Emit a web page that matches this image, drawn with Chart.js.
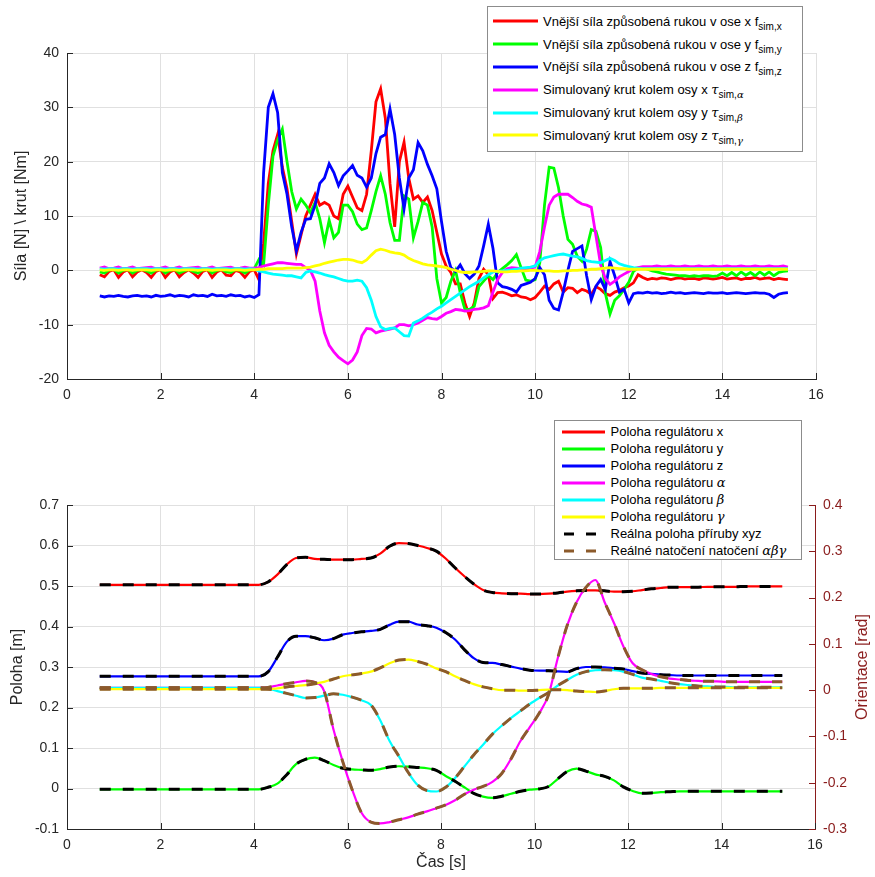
<!DOCTYPE html>
<html lang="cs">
<head>
<meta charset="utf-8">
<title>Síla a poloha regulátoru</title>
<script src="https://cdn.jsdelivr.net/npm/chart.js@4.4.1/dist/chart.umd.min.js"></script>
<style>
  html, body { margin: 0; padding: 0; background: #fff; }
  #wrap { position: relative; width: 875px; height: 877px; overflow: hidden; }
  #topBox { position: absolute; left: 0; top: 0; width: 875px; height: 430px; }
  #bottomBox { position: absolute; left: 0; top: 430px; width: 875px; height: 447px; }
  .legend { position: absolute; background: #fff; border: 1px solid #8c8c8c; box-sizing: border-box;
            font-family: "Liberation Sans", Arial, Helvetica, sans-serif; font-size: 13px; color: #000; z-index: 5; }
  .legend .row { display: flex; align-items: center; white-space: nowrap; }
  .legend svg { flex: none; display: block; }
  .legend sub { font-size: 10px; vertical-align: -4px; line-height: 0; }
  .legend .m { font-family: "DejaVu Serif", serif; font-style: italic; }
  #topLegend { left: 487px; top: 6px; width: 316px; height: 146px; padding-top: 3px; }
  #topLegend .row { height: 22.8px; }
  #topLegend svg { margin: 0 5px 0 5px; }
  #bottomLegend { left: 554px; top: 420px; width: 248px; height: 140px; padding-top: 2px; }
  #bottomLegend .row { height: 17px; }
  #bottomLegend svg { margin: 0 6px 0 6.5px; }
</style>
</head>
<body>
<div id="wrap">
  <div id="topBox"><canvas id="topChart" width="875" height="430"></canvas></div>
  <div id="bottomBox"><canvas id="bottomChart" width="875" height="447"></canvas></div>
  <div id="topLegend" class="legend"></div>
  <div id="bottomLegend" class="legend"></div>
</div>
<script>
// --- Data: top plot (sampled every 0.1 s from 0.7 s to 15.4 s) ---
const timeTop = Array.from({ length: 148 }, (_, i) => +(0.7 + i * 0.1).toFixed(1));

const forceX = [
  -0.8,-1.2,-0.2,0.1,-1.3,-0.3,0.1,-1.2,-0.3,0.1,
  -0.4,-1.3,-0.2,0.1,-1.3,-0.3,0.1,-1.2,-0.4,0.1,
  -0.5,-1.3,-0.2,0.1,-1.3,-0.3,0.1,-0.9,-1.0,0.0,
  -0.3,-1.3,-0.2,0.1,
  -1.7,5,16,22,25,19,15,9,3,6.5,
  10,12,14,12,12.5,12,10,9.5,14,15.5,
  13.5,11.5,11,14,22,31,33.4,28,16,8,
  20,23.6,17,13.1,13.7,12.5,13.5,11,7,3,
  0.8,-0.4,-2.5,-2.5,-6,-8.5,-6,-1.5,0.2,-0.8,
  -5.2,-4.1,-4,-4.3,-4.7,-4.5,-4.9,-5,-5.4,-5,
  -4,-2.9,-3.5,-2.5,-2,-4,-3.2,-3.3,-4.1,-3.5,
  -3.8,-4.4,-3,-3.5,-4.3,-4.6,-4,-3.7,-3.2,-2.9,
  -2.3,-0.8,-1.3,-1.7,-1.5,-1.6,-1.4,-1.5,-1.7,-1.5,
  -1.4,-1.6,-1.5,-1.5,-1.7,-1.4,-1.5,-1.6,-1.5,-1.3,
  -1.6,-1.5,-1.4,-1.7,-1.5,-1.5,-1.3,-1.6,-1.5,-1.4,
  -1.7,-1.5,-1.6,-1.7
];
const forceY = [
  -0.3,-0.5,0.1,0.2,-0.5,0.0,0.2,-0.5,0.0,0.2,
  -0.1,-0.5,0.1,0.2,-0.5,0.0,0.2,-0.5,-0.1,0.2,
  -0.2,-0.5,0.1,0.2,-0.5,0.0,0.2,-0.3,-0.4,0.2,
  0.0,-0.5,0.1,0.3,
  2,1,12,21,24,26,20,14.5,11.3,13.1,
  12,10.6,12.5,9.5,5.1,9.2,6,7,12,12,
  10.8,8.5,7.5,7.8,11,14.5,17.4,14,8.8,5.5,
  5.5,13.7,13.1,6,9,12.5,12,8,-1.5,-6,
  -5,-2,0,-4.1,-7.2,-7.2,-6.6,-3,-2,-1,
  -1.7,-0.4,0.3,1,1.8,2.9,0.5,-1.8,-2,-1.7,
  1.4,12,19,18.8,15.2,10,5.7,4.8,2.6,1.7,
  3.9,7.5,7.2,4.2,-4.2,-8,-5.5,-4.7,-3.5,-2.2,
  -0.2,0.4,0.5,0.2,-0.1,-0.3,-0.5,-0.7,-0.8,-0.9,
  -1.0,-1.0,-1.1,-1.0,-1.1,-1.0,-1.0,-1.1,-1.0,-0.5,
  -1.0,-0.4,-1.0,-0.3,-0.9,-0.4,-1.0,-0.3,-0.9,-0.3,
  -1.0,-0.4,-0.2,-0.1
];
const forceZ = [
  -4.7,-4.9,-4.7,-4.8,-4.6,-4.8,-4.9,-4.7,-4.6,-4.8,
  -4.7,-4.9,-4.6,-4.8,-4.7,-4.5,-4.8,-4.6,-4.7,-4.9,
  -4.5,-4.7,-4.6,-4.8,-4.4,-4.7,-4.6,-4.8,-4.5,-4.7,
  -4.6,-4.9,-4.7,-5.0,
  -4.5,18,30,32.5,29,18,14,8,3.6,7,
  9.4,9.5,12,16,17,19.6,18,15.6,17.4,18.3,
  19.3,17.5,17,15.3,17,21.5,24.5,25,29.7,25,
  17,11.3,17,18.5,23.5,22,19.5,17.4,15,9,
  3.5,0.5,-0.2,1,-0.6,-1.5,-0.7,0.8,4.5,8.5,
  4,-2.3,-3,-3.2,-3.5,-4,-2.8,-2.5,-2.2,-1.5,
  0.5,-0.8,-5.5,-7,-7.3,-4,0,3.5,4,4.5,
  -1,-5.4,-2.9,-1.7,-3.5,1.6,-1,-4,-3.5,-6,
  -4.3,-4.1,-4.2,-4.0,-4.2,-4.1,-4.3,-4.2,-4.0,-4.2,
  -4.1,-4.3,-4.2,-4.1,-4.2,-4.3,-4.1,-4.2,-4.2,-4.1,
  -4.3,-4.2,-4.1,-4.2,-4.3,-4.2,-4.1,-4.2,-4.2,-4.4,
  -5.0,-4.4,-4.2,-4.1
];
const torqueA = [
  0.4,0.6,0.3,0.4,0.6,0.3,0.4,0.6,0.3,0.4,
  0.5,0.6,0.3,0.4,0.6,0.3,0.4,0.6,0.3,0.4,
  0.5,0.6,0.3,0.4,0.6,0.3,0.4,0.5,0.6,0.3,
  0.4,0.6,0.4,0.4,
  0.5,0.8,1,1.2,1.4,1.4,1.3,1.2,1.1,1.1,
  0.5,0,-2,-7.5,-11.5,-13.8,-15,-16,-16.6,-17.2,
  -16.5,-15,-12,-10.7,-10.8,-11.5,-11.2,-11,-10.8,-10.6,
  -10,-10,-10.2,-10,-9.7,-9.2,-8.7,-8.9,-9,-8.5,
  -7.9,-7.6,-7.2,-7.3,-7.5,-7.4,-7.2,-7.1,-6.9,-6.5,
  -4,-1.7,-0.4,0.3,0.5,0.4,0.3,0.2,0.4,0.6,
  3.5,8,12,13.5,14,14,14,13.4,12.7,12.2,
  12,11.6,6.3,1,-1.5,-2.6,-2,-1.2,-0.7,-0.2,
  0.3,0.5,0.7,0.7,0.7,0.8,0.7,0.7,0.8,0.7,
  0.7,0.8,0.7,0.7,0.8,0.7,0.7,0.8,0.7,0.7,
  0.8,0.7,0.7,0.8,0.7,0.7,0.8,0.7,0.7,0.8,
  0.7,0.7,0.8,0.6
];
const torqueB = [
  0.3,0.2,0.3,0.3,0.2,0.3,0.3,0.2,0.3,0.3,
  0.3,0.2,0.3,0.3,0.2,0.3,0.3,0.2,0.3,0.3,
  0.3,0.2,0.3,0.3,0.2,0.3,0.3,0.3,0.2,0.3,
  0.3,0.2,0.3,0.2,
  -0.1,-0.3,-0.5,-0.7,-0.8,-0.9,-1,-1,-1.2,-1.4,
  -0.4,-0.1,-0.3,-0.5,-0.8,-1,-1.2,-1.5,-1.8,-2,
  -2,-1.8,-2,-3.2,-5.5,-8.5,-10.4,-10.9,-10.7,-10.6,
  -11.3,-12,-12.1,-9.7,-9.3,-8.8,-8.2,-7.7,-7.1,-6.6,
  -6,-5.4,-4.8,-4.2,-3.6,-3,-2.5,-2,-1.4,-0.8,
  -0.3,-0.2,-0.1,0,0.1,0.2,0.4,0.5,0.6,0.8,
  1.8,2.3,2.5,2.7,2.9,3,2.8,2.6,2.5,2.2,
  1.8,1.6,1.5,1.4,1.8,2.2,1.8,1.2,0.9,0.7,
  0.5,0.4,0.3,0.3,0.3,0.3,0.3,0.3,0.3,0.3,
  0.3,0.3,0.3,0.3,0.3,0.3,0.3,0.3,0.3,0.3,
  0.3,0.3,0.3,0.3,0.3,0.3,0.3,0.3,0.3,0.3,
  0.3,0.3,0.3,0.3
];
const torqueG = [
  0.1,0.0,0.1,0.1,0.0,0.1,0.1,0.0,0.1,0.1,
  0.1,0.0,0.1,0.1,0.0,0.1,0.1,0.0,0.1,0.1,
  0.1,0.0,0.1,0.1,0.0,0.1,0.1,0.1,0.0,0.1,
  0.1,0.0,0.1,0.1,
  0.2,0.2,0.3,0.3,0.3,0.3,0.4,0.4,0.4,0.4,
  0.5,0.6,0.8,1,1.3,1.5,1.7,1.9,2,2,
  1.9,1.6,1.4,1.9,2.8,3.6,3.9,3.7,3.4,3.2,
  3.1,2.8,2.2,1.8,1.5,1.2,1,0.9,0.8,0.7,
  0.5,0.2,0,-0.3,-0.4,-0.4,-0.3,-0.3,-0.2,-0.1,
  -0.1,-0.2,-0.3,-0.3,-0.2,-0.2,-0.1,-0.1,0,0,
  -0.1,-0.1,-0.1,-0.2,-0.2,-0.1,-0.1,0,0,0.1,
  0.1,0.2,0.2,0.3,0.4,0.5,0.4,0.3,0.3,0.2,
  0.2,0.2,0.2,0.2,0.2,0.2,0.2,0.2,0.2,0.2,
  0.2,0.2,0.2,0.2,0.2,0.2,0.2,0.2,0.2,0.2,
  0.2,0.2,0.2,0.2,0.2,0.2,0.2,0.2,0.2,0.2,
  0.2,0.2,0.2,0.2
];

// --- Data: bottom plot (sampled every 0.2 s from 0.7 s to 15.3 s) ---
const timeBottom = Array.from({ length: 74 }, (_, i) => +(0.7 + i * 0.2).toFixed(1));

const posX = [
  0.503,0.503,0.503,0.503,0.503,0.503,0.503,0.503,0.503,0.503,
  0.503,0.503,0.503,0.503,0.503,0.503,0.503,0.503,
  0.51,0.528,0.553,0.569,0.571,0.567,0.566,0.565,0.565,0.565,
  0.567,0.569,0.58,0.598,0.606,0.605,0.6,0.594,0.586,0.568,
  0.545,0.524,0.505,0.49,0.484,0.482,0.481,0.481,0.48,0.48,
  0.481,0.483,0.486,0.488,0.489,0.489,0.488,0.486,0.486,0.487,
  0.49,0.493,0.495,0.497,0.497,0.497,0.497,0.498,0.498,0.498,
  0.498,0.499,0.499,0.499,0.499,0.499
];
const posY = [
  -0.002,-0.002,-0.002,-0.002,-0.002,-0.002,-0.002,-0.002,-0.002,-0.002,
  -0.002,-0.002,-0.002,-0.002,-0.002,-0.002,-0.002,-0.002,
  0.003,0.012,0.034,0.06,0.072,0.076,0.069,0.058,0.05,0.047,
  0.046,0.045,0.048,0.053,0.055,0.054,0.052,0.05,0.045,0.031,
  0.018,0.003,-0.012,-0.02,-0.023,-0.019,-0.013,-0.007,-0.003,-0.001,
  0.005,0.024,0.042,0.049,0.043,0.035,0.03,0.02,0.004,-0.006,
  -0.012,-0.011,-0.009,-0.008,-0.007,-0.007,-0.007,-0.007,-0.007,-0.007,
  -0.007,-0.007,-0.007,-0.007,-0.007,-0.007
];
const posZ = [
  0.277,0.277,0.277,0.277,0.277,0.277,0.277,0.277,0.277,0.277,
  0.277,0.277,0.277,0.277,0.277,0.277,0.277,0.277,
  0.288,0.324,0.362,0.376,0.376,0.372,0.366,0.37,0.38,0.384,
  0.387,0.389,0.393,0.404,0.412,0.412,0.405,0.402,0.397,0.385,
  0.368,0.343,0.322,0.311,0.31,0.306,0.301,0.296,0.292,0.291,
  0.291,0.289,0.288,0.296,0.3,0.3,0.299,0.297,0.295,0.29,
  0.285,0.283,0.281,0.28,0.279,0.279,0.279,0.279,0.279,0.279,
  0.279,0.279,0.279,0.279,0.279,0.279
];
const oriA = [
  0.005,0.005,0.005,0.005,0.005,0.005,0.005,0.005,0.005,0.005,
  0.005,0.005,0.005,0.005,0.005,0.005,0.005,0.005,
  0.006,0.01,0.014,0.017,0.02,0.017,-0.002,-0.085,-0.155,-0.215,
  -0.265,-0.285,-0.288,-0.285,-0.28,-0.275,-0.268,-0.262,-0.255,-0.248,
  -0.238,-0.225,-0.215,-0.208,-0.198,-0.18,-0.148,-0.11,-0.08,-0.05,
  -0.01,0.07,0.14,0.19,0.222,0.238,0.19,0.145,0.095,0.058,
  0.044,0.035,0.029,0.025,0.023,0.021,0.02,0.019,0.019,0.018,
  0.018,0.018,0.018,0.018,0.018,0.018
];
const oriB = [
  0.005,0.005,0.005,0.005,0.005,0.005,0.005,0.005,0.005,0.005,
  0.005,0.005,0.005,0.005,0.005,0.005,0.005,0.005,
  0.003,-0.002,-0.007,-0.012,-0.017,-0.016,-0.012,-0.008,-0.01,-0.015,
  -0.022,-0.032,-0.065,-0.11,-0.143,-0.178,-0.205,-0.217,-0.219,-0.21,
  -0.19,-0.165,-0.14,-0.118,-0.095,-0.077,-0.06,-0.045,-0.03,-0.017,
  -0.005,0.01,0.022,0.033,0.04,0.043,0.044,0.043,0.04,0.034,
  0.027,0.024,0.02,0.016,0.013,0.011,0.009,0.008,0.007,0.007,
  0.006,0.006,0.006,0.006,0.006,0.006
];
const oriG = [
  0.002,0.002,0.002,0.002,0.002,0.002,0.002,0.002,0.002,0.002,
  0.002,0.002,0.002,0.002,0.002,0.002,0.002,0.002,
  0.002,0.004,0.007,0.009,0.011,0.014,0.018,0.024,0.03,0.033,
  0.036,0.04,0.048,0.058,0.065,0.066,0.062,0.056,0.047,0.04,
  0.03,0.021,0.013,0.007,0.003,0,0,-0.001,-0.001,0,
  0.001,0.001,0,-0.002,-0.003,-0.004,-0.002,0.002,0.004,0.004,
  0.004,0.004,0.005,0.005,0.005,0.005,0.005,0.005,0.005,0.005,
  0.005,0.005,0.005,0.005,0.005,0.005
];

// --- Styling ---
const AXIS = '#262626';
const GRID = '#e0e0e0';
const DARKRED = '#8a1c1c';
const FONT = '"Liberation Sans", Arial, Helvetica, sans-serif';
Chart.defaults.font.family = FONT;
Chart.defaults.color = AXIS;

function toPoints(times, values) {
    return times.map((t, i) => ({ x: t, y: values[i] }));
}

// MATLAB-like tick marks pointing into the plot
const innerTicks = {
    id: 'innerTicks',
    beforeDatasetsDraw(chart) {
        const ctx = chart.ctx;
        const a = chart.chartArea;
        ctx.save();
        ctx.lineWidth = 1;
        Object.values(chart.scales).forEach(scale => {
            ctx.strokeStyle = scale.options.border.color;
            ctx.beginPath();
            scale.ticks.forEach((tick, i) => {
                const p = Math.round(scale.getPixelForTick(i)) + 0.5;
                if (scale.axis === 'x') { ctx.moveTo(p, a.bottom); ctx.lineTo(p, a.bottom - 6); }
                else if (scale.position === 'left') { ctx.moveTo(a.left, p); ctx.lineTo(a.left + 6, p); }
                else { ctx.moveTo(a.right, p); ctx.lineTo(a.right - 6, p); }
            });
            ctx.stroke();
        });
        ctx.restore();
    }
};

// right axis label reads bottom-to-top, like the MATLAB yyaxis label
const rightTitle = {
    id: 'rightTitle',
    afterDraw(chart) {
        const ctx = chart.ctx;
        const a = chart.chartArea;
        ctx.save();
        ctx.translate(863, (a.top + a.bottom) / 2);
        ctx.rotate(-Math.PI / 2);
        ctx.fillStyle = DARKRED;
        ctx.font = '16px ' + FONT;
        ctx.textAlign = 'center';
        ctx.textBaseline = 'middle';
        ctx.fillText('Orientace [rad]', 0, 0);
        ctx.restore();
    }
};

function lineSample(color, dashed, width) {
    const dash = dashed ? ' stroke-dasharray="10 12"' : '';
    return '<svg width="' + width + '" height="6"><line x1="' + (dashed ? 2 : 0) + '" y1="3" x2="' + width +
        '" y2="3" stroke="' + color + '" stroke-width="3"' + dash + '/></svg>';
}

function buildLegend(el, items, width) {
    el.innerHTML = items.map(it =>
        '<div class="row">' + lineSample(it.color, it.dashed, width) + '<span>' + it.html + '</span></div>'
    ).join('');
}

// --- Top chart ---
const topSeries = [
    { values: forceX, color: '#ff0000', label: 'f_sim,x', html: 'Vnější síla způsobená rukou v ose x f<sub>sim,x</sub>' },
    { values: forceY, color: '#00ff00', label: 'f_sim,y', html: 'Vnější síla způsobená rukou v ose y f<sub>sim,y</sub>' },
    { values: forceZ, color: '#0000ff', label: 'f_sim,z', html: 'Vnější síla způsobená rukou v ose z f<sub>sim,z</sub>' },
    { values: torqueA, color: '#ff00ff', label: 'tau_sim,alpha', html: 'Simulovaný krut kolem osy x <span class="m">τ</span><sub>sim,<span class="m">α</span></sub>' },
    { values: torqueB, color: '#00ffff', label: 'tau_sim,beta', html: 'Simulovaný krut kolem osy y <span class="m">τ</span><sub>sim,<span class="m">β</span></sub>' },
    { values: torqueG, color: '#ffff00', label: 'tau_sim,gamma', html: 'Simulovaný krut kolem osy z <span class="m">τ</span><sub>sim,<span class="m">γ</span></sub>' }
];

new Chart(document.getElementById('topChart'), {
    type: 'line',
    data: {
        datasets: topSeries.map((s, i) => ({
            label: s.label,
            data: toPoints(timeTop, s.values),
            borderColor: s.color,
            borderWidth: 2.8,
            pointRadius: 0,
            tension: 0,
            order: topSeries.length - i
        }))
    },
    options: {
        responsive: false,
        animation: false,
        events: [],
        layout: { padding: { left: 0, right: 59, top: 53, bottom: 21 } },
        plugins: { legend: { display: false }, tooltip: { enabled: false } },
        scales: {
            x: {
                type: 'linear', min: 0, max: 16,
                ticks: { stepSize: 2, font: { size: 14 }, padding: 8, color: AXIS, maxRotation: 0 },
                grid: { color: GRID, drawTicks: false },
                border: { color: AXIS, width: 1 },
                afterFit: s => { s.height = 30; }
            },
            y: {
                min: -20, max: 40,
                ticks: { stepSize: 10, font: { size: 14 }, padding: 8, color: AXIS },
                grid: { color: GRID, drawTicks: false },
                border: { color: AXIS, width: 1 },
                title: { display: true, text: 'Síla [N] \\ krut [Nm]', font: { size: 16 }, color: AXIS, padding: { top: 12, bottom: 0 } },
                afterFit: s => { s.width = 67; }
            }
        }
    },
    plugins: [innerTicks]
});

buildLegend(document.getElementById('topLegend'), topSeries, 45);

// --- Bottom chart ---
const bottomSeries = [
    { values: posX, color: '#ff0000', axis: 'yL', html: 'Poloha regulátoru x' },
    { values: posY, color: '#00ff00', axis: 'yL', html: 'Poloha regulátoru y' },
    { values: posZ, color: '#0000ff', axis: 'yL', html: 'Poloha regulátoru z' },
    { values: oriA, color: '#ff00ff', axis: 'yR', html: 'Poloha regulátoru <span class="m">α</span>' },
    { values: oriB, color: '#00ffff', axis: 'yR', html: 'Poloha regulátoru <span class="m">β</span>' },
    { values: oriG, color: '#ffff00', axis: 'yR', html: 'Poloha regulátoru <span class="m">γ</span>' }
];
const REAL_POS = '#000000';
const REAL_ORI = '#8c5a2b';

const bottomDatasets = bottomSeries.map((s, i) => ({
    label: s.html,
    data: toPoints(timeBottom, s.values),
    yAxisID: s.axis,
    borderColor: s.color,
    borderWidth: 2.2,
    pointRadius: 0,
    cubicInterpolationMode: 'monotone',
    order: 20 - i
}));
// measured flange position / orientation overlaid as dashed lines
bottomSeries.forEach(s => {
    bottomDatasets.push({
        label: s.axis === 'yL' ? 'real xyz' : 'real abg',
        data: toPoints(timeBottom, s.values),
        yAxisID: s.axis,
        borderColor: s.axis === 'yL' ? REAL_POS : REAL_ORI,
        borderWidth: 3,
        borderDash: [11, 12],
        pointRadius: 0,
        cubicInterpolationMode: 'monotone',
        order: s.axis === 'yL' ? 2 : 1
    });
});

new Chart(document.getElementById('bottomChart'), {
    type: 'line',
    data: { datasets: bottomDatasets },
    options: {
        responsive: false,
        animation: false,
        events: [],
        layout: { padding: { left: 0, right: 0, top: 75, bottom: 0 } },
        plugins: { legend: { display: false }, tooltip: { enabled: false } },
        scales: {
            x: {
                type: 'linear', min: 0, max: 16,
                ticks: { stepSize: 2, font: { size: 14 }, padding: 8, color: AXIS, maxRotation: 0 },
                grid: { color: GRID, drawTicks: false },
                border: { color: AXIS, width: 1 },
                title: { display: true, text: 'Čas [s]', font: { size: 16 }, color: AXIS, padding: { top: 0, bottom: 5 } },
                afterFit: s => { s.height = 48; }
            },
            yL: {
                position: 'left', min: -0.1, max: 0.7,
                ticks: { stepSize: 0.1, font: { size: 14 }, padding: 8, color: AXIS, callback: v => +v.toFixed(1) },
                grid: { color: GRID, drawTicks: false },
                border: { color: AXIS, width: 1 },
                title: { display: true, text: 'Poloha [m]', font: { size: 16 }, color: AXIS, padding: { top: 8, bottom: 0 } },
                afterFit: s => { s.width = 67; }
            },
            yR: {
                position: 'right', min: -0.3, max: 0.4,
                ticks: { stepSize: 0.1, font: { size: 14 }, padding: 8, color: DARKRED, callback: v => +v.toFixed(1) },
                grid: { drawOnChartArea: false, drawTicks: false },
                border: { color: DARKRED, width: 1 },
                afterFit: s => { s.width = 60; }
            }
        }
    },
    plugins: [innerTicks, rightTitle]
});

buildLegend(document.getElementById('bottomLegend'), bottomSeries.concat([
    { color: REAL_POS, dashed: true, html: 'Reálna poloha příruby xyz' },
    { color: REAL_ORI, dashed: true, html: 'Reálné natočení natočení <span class="m">αβγ</span>' }
]), 43);
</script>
</body>
</html>
